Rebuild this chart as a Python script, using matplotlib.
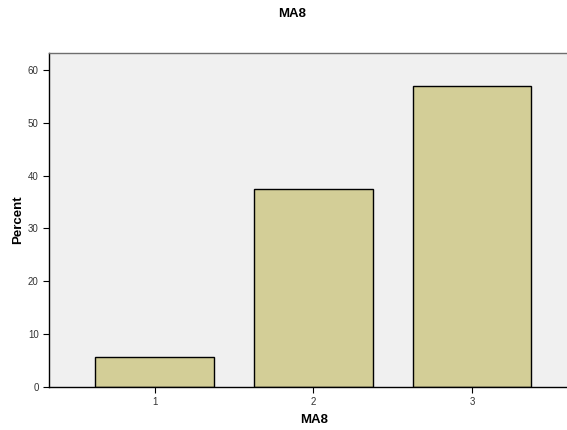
import matplotlib
matplotlib.use("Agg")
import matplotlib.pyplot as plt

# data
categories = ["1", "2", "3"]
positions = [1, 2, 3]
percent = [5.7, 37.5, 56.9]
y_ticks = [0, 10, 20, 30, 40, 50, 60]

plt.rcParams["font.family"] = ["Liberation Sans", "DejaVu Sans"]

fig = plt.figure(figsize=(5.67, 4.30), dpi=100)
ax = fig.add_axes([49 / 567, 43 / 430, 1 - 49 / 567, (387 - 53) / 430])
ax.set_facecolor("#f0f0f0")

ax.bar(positions, percent, width=0.75, color="#d3ce97", edgecolor="black", linewidth=1.0, zorder=2)

ax.set_xlim(0.332, 3.599)
ax.set_ylim(0, 63.2)
ax.set_xticks(positions)
ax.set_xticklabels(categories)
ax.set_yticks(y_ticks)
ax.tick_params(axis="both", labelsize=7, length=4, width=0.8, colors="black", labelcolor="#333333")

for side in ["left", "bottom"]:
    ax.spines[side].set_color("black")
    ax.spines[side].set_linewidth(1.0)
ax.spines["top"].set_color("#6e6e6e")
ax.spines["top"].set_linewidth(1.0)
ax.spines["right"].set_visible(False)

ax.set_xlabel("MA8", fontsize=9.5, fontweight="bold")
ax.set_ylabel("Percent", fontsize=9.5, fontweight="bold")
# label positions in axes fraction, matched to the reference
ax.xaxis.set_label_coords((314 - 49) / (567 - 49), -(420 - 387) / (387 - 53), transform=ax.transAxes)
ax.yaxis.set_label_coords(-(49 - 18) / (567 - 49), 0.5, transform=ax.transAxes)
ax.xaxis.label.set_va("center")
ax.yaxis.label.set_va("center")
fig.text(292 / 567, 1 - 14 / 430, "MA8", fontsize=9.5, fontweight="bold", ha="center", va="center")

fig.savefig("out.png", dpi=100)
